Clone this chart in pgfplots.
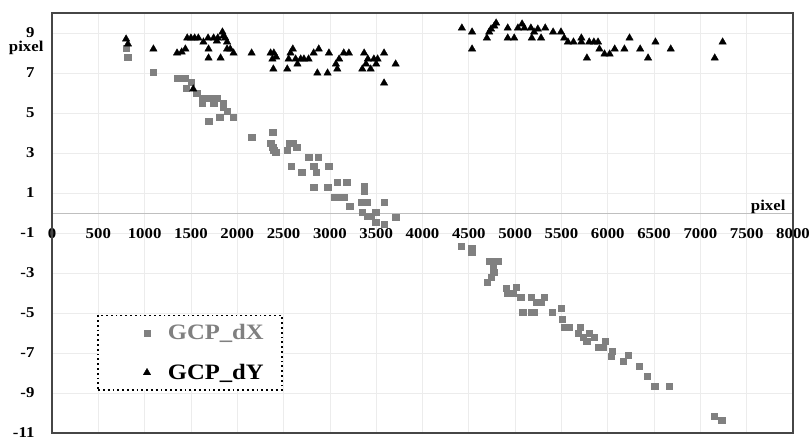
\documentclass[border=0pt]{standalone}
\usepackage{pgfplots}
\pgfplotsset{compat=1.18}
\usepackage{fontspec}
\setmainfont{Liberation Serif}[FakeStretch=1.12]
\definecolor{mygray}{RGB}{128,128,128}
\definecolor{framec}{RGB}{70,70,70}
\begin{document}
\begin{tikzpicture}
\begin{axis}[
 scale only axis, width=741pt, height=420pt,
 xmin=0, xmax=8000, ymin=-11, ymax=10,
 axis x line=middle, axis y line=left,
 axis line style={-},
 x axis line style={draw=gray!50, line width=0.9pt},
 y axis line style={draw=none},
 xtick={0,500,...,8000}, ytick={-11,-9,...,9},
 major tick length=0pt,
 grid=major, major grid style={draw=gray!15, line width=0.7pt},
 hide obscured x ticks=false, hide obscured y ticks=false,
 scaled ticks=false,
 /pgf/number format/assume math mode=true,
 /pgf/number format/set thousands separator={},
 ticklabel style={font=\fontsize{15}{17}\selectfont\bfseries},
 xticklabel style={yshift=-12pt},
 yticklabel style={xshift=-14pt},
 clip=false,
 legend style={at={(axis description cs:0.061,0.282)}, anchor=north west,
   draw=black, line width=1.8pt, dash pattern=on 1.8pt off 3pt,
   font=\fontsize{22}{24}\selectfont\bfseries,
   inner xsep=16pt, inner ysep=7pt, row sep=19pt},
 legend cell align=left,
 legend image code/.code={\path (0pt,0pt) (50pt,0pt); \draw[#1] plot coordinates {(32pt,0pt)};},
]
\addplot[only marks, mark=square*, mark size=3.2pt, color=mygray, mark options={solid, line width=0.3pt}] table {
x y
800 8.25
815 7.8
1090 7.05
1350 6.75
1400 6.75
1440 6.75
1505 6.55
1450 6.25
1560 6.0
1620 5.75
1660 5.75
1700 5.75
1750 5.75
1780 5.75
1620 5.5
1745 5.5
1850 5.5
1850 5.3
1890 5.1
1690 4.6
1810 4.8
1955 4.8
2155 3.8
2380 4.05
2360 3.5
2380 3.3
2395 3.15
2415 3.05
2540 3.15
2565 3.5
2605 3.5
2640 3.3
2585 2.35
2695 2.05
2770 2.8
2825 2.35
2855 2.05
2875 2.8
2985 2.35
2825 1.3
2975 1.3
3080 1.55
3180 1.55
3045 0.8
3100 0.8
3150 0.8
3215 0.35
3370 1.35
3370 1.1
3345 0.55
3395 0.55
3585 0.55
3350 0.05
3400 -0.15
3440 -0.15
3495 0.05
3495 -0.45
3585 -0.55
3710 -0.2
4415 -1.65
4530 -1.75
4530 -1.95
4720 -2.4
4765 -2.4
4810 -2.4
4760 -2.65
4770 -2.95
4740 -3.2
4695 -3.45
4900 -3.75
5010 -3.7
4920 -4.0
4975 -4.0
5060 -4.2
5170 -4.2
5225 -4.45
5280 -4.45
5315 -4.2
5080 -4.95
5170 -4.95
5205 -4.95
5400 -4.95
5495 -4.75
5510 -5.3
5530 -5.7
5580 -5.7
5700 -5.7
5680 -6.0
5735 -6.2
5770 -6.4
5800 -6.0
5850 -6.2
5895 -6.7
5950 -6.7
5975 -6.4
6045 -6.9
6035 -7.15
6165 -7.4
6220 -7.1
6340 -7.65
6425 -8.15
6505 -8.65
6665 -8.65
7150 -10.15
7230 -10.35
};
\addlegendentry{\textcolor{mygray}{GCP\_dX}}
\addplot[only marks, mark=triangle*, mark size=4.3pt, color=black, mark options={solid, line width=0.3pt}] table {
x y
800 8.7
820 8.45
1095 8.2
1350 8.0
1400 8.05
1440 8.2
1460 8.75
1500 8.75
1540 8.75
1580 8.75
1525 6.2
1635 8.55
1685 8.75
1690 8.2
1690 7.75
1745 8.75
1780 8.6
1790 8.75
1820 7.75
1840 9.05
1850 8.85
1870 8.75
1890 8.55
1890 8.2
1925 8.2
1960 8.0
2155 8.0
2360 8.0
2395 8.0
2380 7.7
2390 7.2
2420 7.8
2540 7.2
2555 7.7
2575 8.0
2600 8.2
2630 7.7
2650 7.45
2685 7.7
2720 7.7
2770 7.7
2825 8.0
2865 7.0
2880 8.2
2975 7.0
2990 8.0
3065 7.45
3080 7.2
3100 7.7
3150 8.0
3205 8.0
3370 8.0
3350 7.2
3440 7.2
3390 7.45
3410 7.7
3475 7.7
3500 7.45
3515 7.7
3585 8.0
3585 6.5
3710 7.45
4425 9.25
4535 9.05
4535 8.2
4695 8.75
4720 9.05
4740 9.2
4775 9.35
4795 9.5
4920 9.25
4920 8.75
4990 8.75
5030 9.25
5075 9.45
5100 9.25
5170 9.25
5180 8.75
5205 9.05
5245 9.2
5280 8.75
5325 9.25
5410 9.05
5495 9.05
5530 8.75
5570 8.55
5630 8.55
5715 8.75
5715 8.55
5775 7.75
5800 8.55
5850 8.55
5895 8.55
5910 8.2
5965 7.95
6020 7.95
6075 8.2
6180 8.2
6235 8.75
6350 8.2
6435 7.75
6515 8.55
6680 8.2
7155 7.75
7240 8.55
};
\addlegendentry{GCP\_dY}
\draw[framec, line width=1.4pt] (rel axis cs:0,0) rectangle (rel axis cs:1,1);
\node[anchor=base east, xshift=-5pt, font=\fontsize{15}{17}\selectfont\bfseries] at (axis cs:0,8.05) {pixel};
\node[anchor=base east, xshift=-4pt, yshift=3pt, font=\fontsize{15}{17}\selectfont\bfseries] at (axis cs:8000,0) {pixel};
\coordinate (bbSW) at (rel axis cs:0,0);
\coordinate (bbNE) at (rel axis cs:1,1);
\end{axis}
\pgfresetboundingbox
\path[use as bounding box] ([xshift=-52pt,yshift=-7pt]bbSW) rectangle ([xshift=18pt,yshift=13pt]bbNE);
\end{tikzpicture}
\end{document}
